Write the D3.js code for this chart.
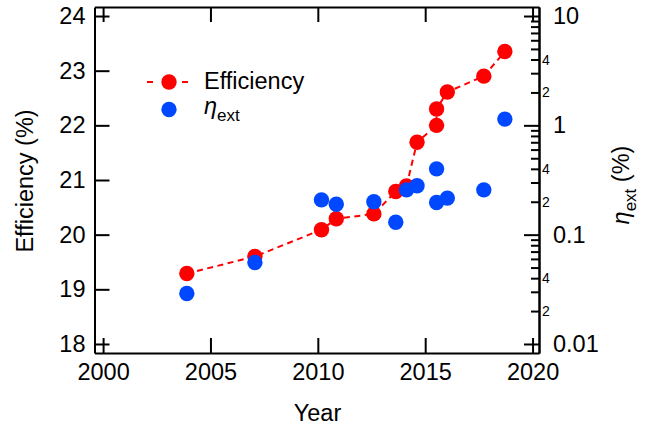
<!DOCTYPE html>
<html>
<head>
<meta charset="utf-8">
<script src="https://cdn.jsdelivr.net/npm/d3@7"></script>
<style>
  body { margin: 0; background: #fff; }
  svg { font-family: 'Liberation Sans', Arial, sans-serif; }
</style>
</head>
<body>
<div id="chart"></div>
<script>
const years = [2003.9, 2007.07, 2010.17, 2010.86, 2012.61, 2013.63, 2014.13, 2014.62, 2015.53, 2015.53, 2016.03, 2017.73, 2018.71]
const efficiency = [19.29, 19.6, 20.09, 20.29, 20.38, 20.79, 20.89, 21.69, 22.0, 22.3, 22.61, 22.9, 23.35]
const eta = [0.029, 0.0557, 0.208, 0.19, 0.2, 0.13, 0.257, 0.28, 0.197, 0.4, 0.216, 0.257, 1.14]

const xTicks = [2000, 2005, 2010, 2015, 2020]
const yTicks = [18, 19, 20, 21, 22, 23, 24]
const etaMajor = [0.01, 0.1, 1, 10]
const etaMinor = [0.02, 0.03, 0.04, 0.05, 0.06, 0.07, 0.08, 0.09,
  0.2, 0.3, 0.4, 0.5, 0.6, 0.7, 0.8, 0.9,
  2, 3, 4, 5, 6, 7, 8, 9]
const etaMinorLabels = [0.02, 0.04, 0.2, 0.4, 2, 4]

const width = 651
const height = 430
const plotLeft = 94.5, plotRight = 539, plotTop = 7, plotBottom = 353
const red = '#ff0000'
const blue = '#0048ff'
const font = 23.5
const r = 7.7

const x = d3.scaleLinear().domain([1999.6, 2020.3]).range([plotLeft, plotRight])
const y = d3.scaleLinear().domain([17.835, 24.165]).range([plotBottom, plotTop])
const yR = d3.scaleLog().domain([Math.pow(10, -2.0825), Math.pow(10, 1.0825)]).range([plotBottom, plotTop])

const svg = d3.select('#chart').append('svg')
  .attr('width', width)
  .attr('height', height)

function styleAxis (g) {
  g.selectAll('path.domain').attr('stroke', '#000').attr('stroke-width', 2)
  g.selectAll('.tick line').attr('stroke', '#000').attr('stroke-width', 2)
  g.selectAll('.tick text').attr('fill', '#000')
}

// bottom
svg.append('g')
  .attr('transform', `translate(0,${plotBottom})`)
  .call(d3.axisBottom(x).tickValues(xTicks).tickFormat(d3.format('d'))
    .tickSizeInner(-15).tickSizeOuter(0).tickPadding(10))
  .call(styleAxis)
  .call(g => g.attr('font-family', null))
  .selectAll('.tick text')
    .attr('font-size', font)

// top
svg.append('g')
  .attr('transform', `translate(0,${plotTop})`)
  .call(d3.axisTop(x).tickValues(xTicks).tickFormat('')
    .tickSizeInner(-15).tickSizeOuter(0))
  .call(styleAxis)

// left
svg.append('g')
  .attr('transform', `translate(${plotLeft},0)`)
  .call(d3.axisLeft(y).tickValues(yTicks).tickFormat(d3.format('d'))
    .tickSizeInner(-15).tickSizeOuter(0).tickPadding(9))
  .call(styleAxis)
  .call(g => g.attr('font-family', null))
  .selectAll('.tick text')
    .attr('font-size', font)

// right, log scale
svg.append('g')
  .attr('transform', `translate(${plotRight},0)`)
  .call(d3.axisRight(yR).tickValues(etaMinor)
    .tickFormat(d => etaMinorLabels.includes(d) ? String(Math.round(d / Math.pow(10, Math.floor(Math.log10(d) + 1e-9)))) : '')
    .tickSizeInner(-8).tickSizeOuter(0).tickPadding(3))
  .call(styleAxis)
  .call(g => g.attr('font-family', null))
  .selectAll('.tick text')
    .attr('font-size', 14)

svg.append('g')
  .attr('transform', `translate(${plotRight},0)`)
  .call(d3.axisRight(yR).tickValues(etaMajor).tickFormat(d => String(d))
    .tickSizeInner(-15).tickSizeOuter(0).tickPadding(14))
  .call(styleAxis)
  .call(g => g.attr('font-family', null))
  .selectAll('.tick text')
    .attr('font-size', font)

// axis titles
svg.append('text')
  .attr('x', 317.5)
  .attr('y', 421)
  .attr('text-anchor', 'middle')
  .attr('font-size', font)
  .text('Year')

svg.append('text')
  .attr('transform', 'translate(33,181) rotate(-90)')
  .attr('text-anchor', 'middle')
  .attr('font-size', font)
  .text('Efficiency (%)')

let rt = svg.append('text')
  .attr('transform', 'translate(629,185) rotate(-90)')
  .attr('text-anchor', 'middle')
  .attr('font-size', font)
rt.append('tspan').attr('font-style', 'italic').text('η')
rt.append('tspan').attr('font-size', 17).attr('dy', 7).text('ext')
rt.append('tspan').attr('dy', -7).text(' (%)')

// efficiency line + points
const pts = years.map((yr, i) => ({ yr, eff: efficiency[i], eta: eta[i] }))

svg.append('path')
  .datum(pts)
  .attr('fill', 'none')
  .attr('stroke', red)
  .attr('stroke-width', 2)
  .attr('stroke-dasharray', '6,4.5')
  .attr('d', d3.line().x(d => x(d.yr)).y(d => y(d.eff)))

svg.append('g').selectAll('circle')
  .data(pts)
  .join('circle')
    .attr('cx', d => x(d.yr))
    .attr('cy', d => y(d.eff))
    .attr('r', r)
    .attr('fill', red)

svg.append('g').selectAll('circle')
  .data(pts)
  .join('circle')
    .attr('cx', d => x(d.yr))
    .attr('cy', d => yR(d.eta))
    .attr('r', r)
    .attr('fill', blue)

// legend
const legend = svg.append('g')
legend.append('line')
  .attr('x1', 147).attr('x2', 188)
  .attr('y1', 82).attr('y2', 82)
  .attr('stroke', red)
  .attr('stroke-width', 2)
  .attr('stroke-dasharray', '6,29,6')
legend.append('circle').attr('cx', 169).attr('cy', 82).attr('r', r).attr('fill', red)
legend.append('circle').attr('cx', 169).attr('cy', 109.5).attr('r', r).attr('fill', blue)
legend.append('text')
  .attr('x', 204).attr('y', 89)
  .attr('font-size', font)
  .text('Efficiency')
let lt = legend.append('text')
  .attr('x', 204).attr('y', 114)
  .attr('font-size', font)
lt.append('tspan').attr('font-style', 'italic').text('η')
lt.append('tspan').attr('font-size', 17).attr('dy', 7).text('ext')
</script>
</body>
</html>
